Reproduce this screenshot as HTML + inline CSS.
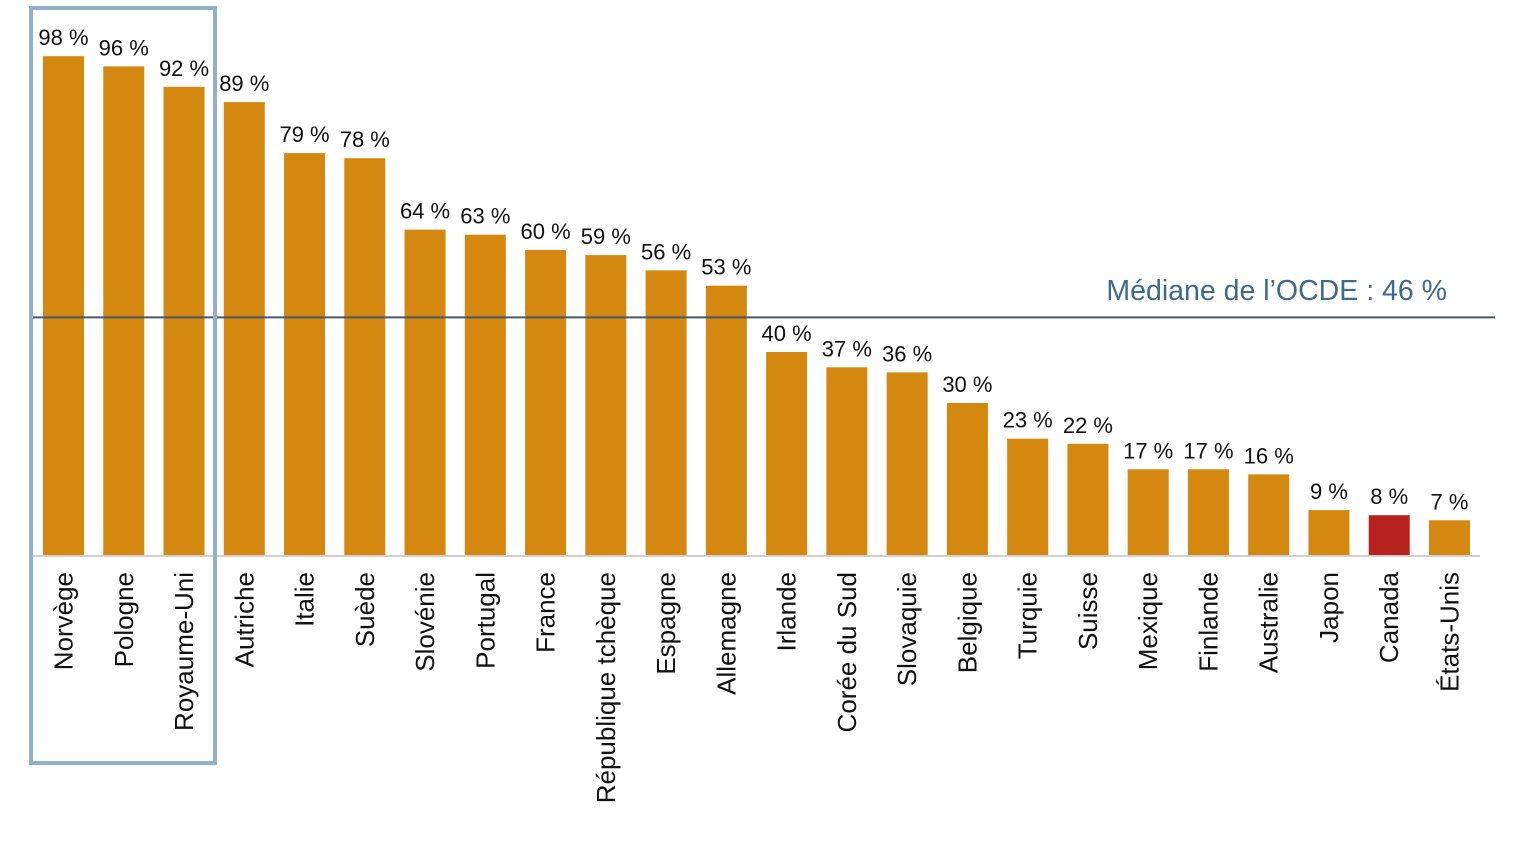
<!DOCTYPE html>
<html><head><meta charset="utf-8"><style>
body{margin:0;background:#fff;}
svg{display:block;font-family:"Liberation Sans",sans-serif;}
</style></head><body>
<svg id="chart" width="1521" height="858">
<g id="bars"></g>
<g id="vals"></g>
<g id="cats"></g>
<line x1="33" y1="556" x2="1480" y2="556" stroke="#d0d0d0" stroke-width="2"/>
<line id="med" x1="33" x2="1495" stroke="#44596b" stroke-width="2"/>
<text x="1447" y="300" text-anchor="end" font-size="28.5" fill="#3d6a8e">Médiane de l’OCDE : 46 %</text>
<rect x="31" y="8" width="184" height="755" fill="none" stroke="#8fb1c9" stroke-width="4"/>
</svg>
<script>
const categories=["Norvège","Pologne","Royaume-Uni","Autriche","Italie","Suède","Slovénie","Portugal","France","République tchèque","Espagne","Allemagne","Irlande","Corée du Sud","Slovaquie","Belgique","Turquie","Suisse","Mexique","Finlande","Australie","Japon","Canada","États-Unis"];
const values=[98,96,92,89,79,78,64,63,60,59,56,53,40,37,36,30,23,22,17,17,16,9,8,7];
const median=46;
const ns="http://www.w3.org/2000/svg";
const base=556, k=5.1, x0=43, pitch=60.26, bw=41;
const y=v=>base-v*k;
const xb=i=>x0+i*pitch;
const gb=document.getElementById('bars'),gv=document.getElementById('vals'),gc=document.getElementById('cats');
values.forEach((v,i)=>{
 const r=document.createElementNS(ns,'rect');
 
 
 r.setAttribute('x',xb(i));r.setAttribute('y',y(v));r.setAttribute('width',bw);r.setAttribute('height',v*k);
 r.setAttribute('fill',categories[i]==="Canada"?"#b8221c":"#d4880f");
 gb.appendChild(r);
 const t=document.createElementNS(ns,'text');
 
 
 t.setAttribute('x',xb(i)+bw/2);t.setAttribute('y',y(v)-11);t.setAttribute('text-anchor','middle');t.setAttribute('font-size','22');t.setAttribute('fill','#111');
 t.textContent=v+" %";gv.appendChild(t);
 const c=document.createElementNS(ns,'text');
 
 
 const cx=xb(i)+bw/2+9;
 c.setAttribute('transform','translate('+cx+',572) rotate(-90)');
 c.setAttribute('text-anchor','end');c.setAttribute('font-size','26');c.setAttribute('fill','#111');
 c.textContent=categories[i];gc.appendChild(c);
});
const m=document.getElementById('med');m.setAttribute('y1',y(median)-4);m.setAttribute('y2',y(median)-4);
</script>
</body></html>
